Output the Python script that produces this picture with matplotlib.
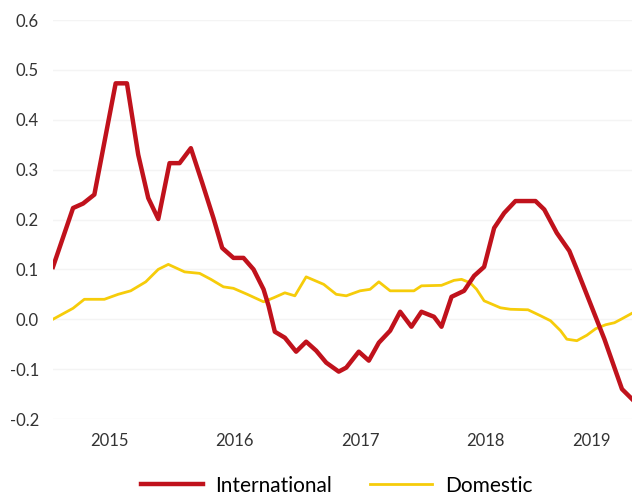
import numpy as np
import matplotlib.pyplot as plt

# x positions in years, values of each series
intl_x = [2014.55, 2014.71, 2014.79, 2014.88, 2015.05, 2015.14, 2015.23, 2015.31,
          2015.39, 2015.48, 2015.56, 2015.65, 2015.74, 2015.83, 2015.90, 2015.99,
          2016.07, 2016.15, 2016.23, 2016.27, 2016.32, 2016.40, 2016.49, 2016.57,
          2016.65, 2016.73, 2016.83, 2016.89, 2016.99, 2017.07, 2017.15, 2017.24,
          2017.32, 2017.41, 2017.49, 2017.59, 2017.65, 2017.73, 2017.83, 2017.91,
          2017.99, 2018.07, 2018.15, 2018.24, 2018.40, 2018.47, 2018.57, 2018.67,
          2018.73, 2018.84, 2018.95, 2019.09, 2019.17]
intl_y = [0.105, 0.223, 0.232, 0.25, 0.473, 0.473, 0.33, 0.243,
          0.201, 0.313, 0.313, 0.343, 0.274, 0.203, 0.143, 0.123,
          0.123, 0.1, 0.06, 0.027, -0.025, -0.037, -0.065, -0.045,
          -0.063, -0.087, -0.105, -0.097, -0.065, -0.083, -0.047, -0.023,
          0.015, -0.015, 0.015, 0.005, -0.015, 0.045, 0.057, 0.087,
          0.105, 0.183, 0.213, 0.237, 0.237, 0.22, 0.173, 0.137,
          0.1, 0.03, -0.04, -0.14, -0.16]

dom_x = [2014.55, 2014.71, 2014.80, 2014.96, 2015.07, 2015.17, 2015.29, 2015.39,
         2015.47, 2015.60, 2015.72, 2015.81, 2015.91, 2015.99, 2016.10, 2016.23,
         2016.31, 2016.40, 2016.48, 2016.57, 2016.71, 2016.81, 2016.89, 2017.00,
         2017.08, 2017.15, 2017.24, 2017.32, 2017.43, 2017.49, 2017.65, 2017.75,
         2017.81, 2017.88, 2017.93, 2017.99, 2018.12, 2018.20, 2018.34, 2018.44,
         2018.52, 2018.60, 2018.65, 2018.73, 2018.81, 2018.88, 2018.96, 2019.03,
         2019.09, 2019.17]
dom_y = [0.0, 0.022, 0.04, 0.04, 0.05, 0.057, 0.075, 0.1,
         0.11, 0.095, 0.092, 0.08, 0.065, 0.062, 0.05, 0.035,
         0.043, 0.053, 0.047, 0.085, 0.07, 0.05, 0.047, 0.057,
         0.06, 0.075, 0.057, 0.057, 0.057, 0.067, 0.068, 0.078,
         0.08, 0.073, 0.06, 0.037, 0.023, 0.02, 0.019, 0.007,
         -0.003, -0.023, -0.04, -0.043, -0.032, -0.019, -0.011, -0.007,
         0.001, 0.012]

years = [2015, 2016, 2017, 2018, 2019]
year_pos = [2015, 2016, 2017, 2018, 2018.85]
yticks = [-0.2, -0.1, 0.0, 0.1, 0.2, 0.3, 0.4, 0.5, 0.6]

plt.rcParams['font.family'] = ['Lato', 'DejaVu Sans']

fig = plt.figure(figsize=(6.35, 4.98), dpi=100)
ax = fig.add_axes([53/635, 1 - 419/498, 579/635, 399/498])

ax.plot(dom_x, dom_y, color='#f6cc0a', lw=2.0, label='Domestic', zorder=2)
ax.plot(intl_x, intl_y, color='#c0121c', lw=3.2, label='International', zorder=3)

ax.set_xlim(2014.55, 2019.17)
ax.set_ylim(-0.2, 0.6)
ax.set_yticks(yticks)
ax.set_yticklabels(['-0.2', '-0.1', '0.0', '0.1', '0.2', '0.3', '0.4', '0.5', '0.6'])
ax.set_xticks(year_pos)
ax.set_xticklabels([str(y) for y in years])
ax.tick_params(axis='both', length=0, labelsize=12, labelcolor='#333333')
ax.tick_params(axis='y', pad=10)
ax.tick_params(axis='x', pad=10)
ax.grid(axis='y', color='#f4f4f4', lw=1)
ax.set_axisbelow(True)
for s in ax.spines.values():
    s.set_visible(False)

h, l = ax.get_legend_handles_labels()
fig.legend(h[::-1], l[::-1], loc='center', bbox_to_anchor=(0.53, 0.025), ncol=2,
           frameon=False, fontsize=15, handlelength=3.0, handletextpad=0.6,
           columnspacing=1.8)

fig.savefig('out.png', dpi=100)
